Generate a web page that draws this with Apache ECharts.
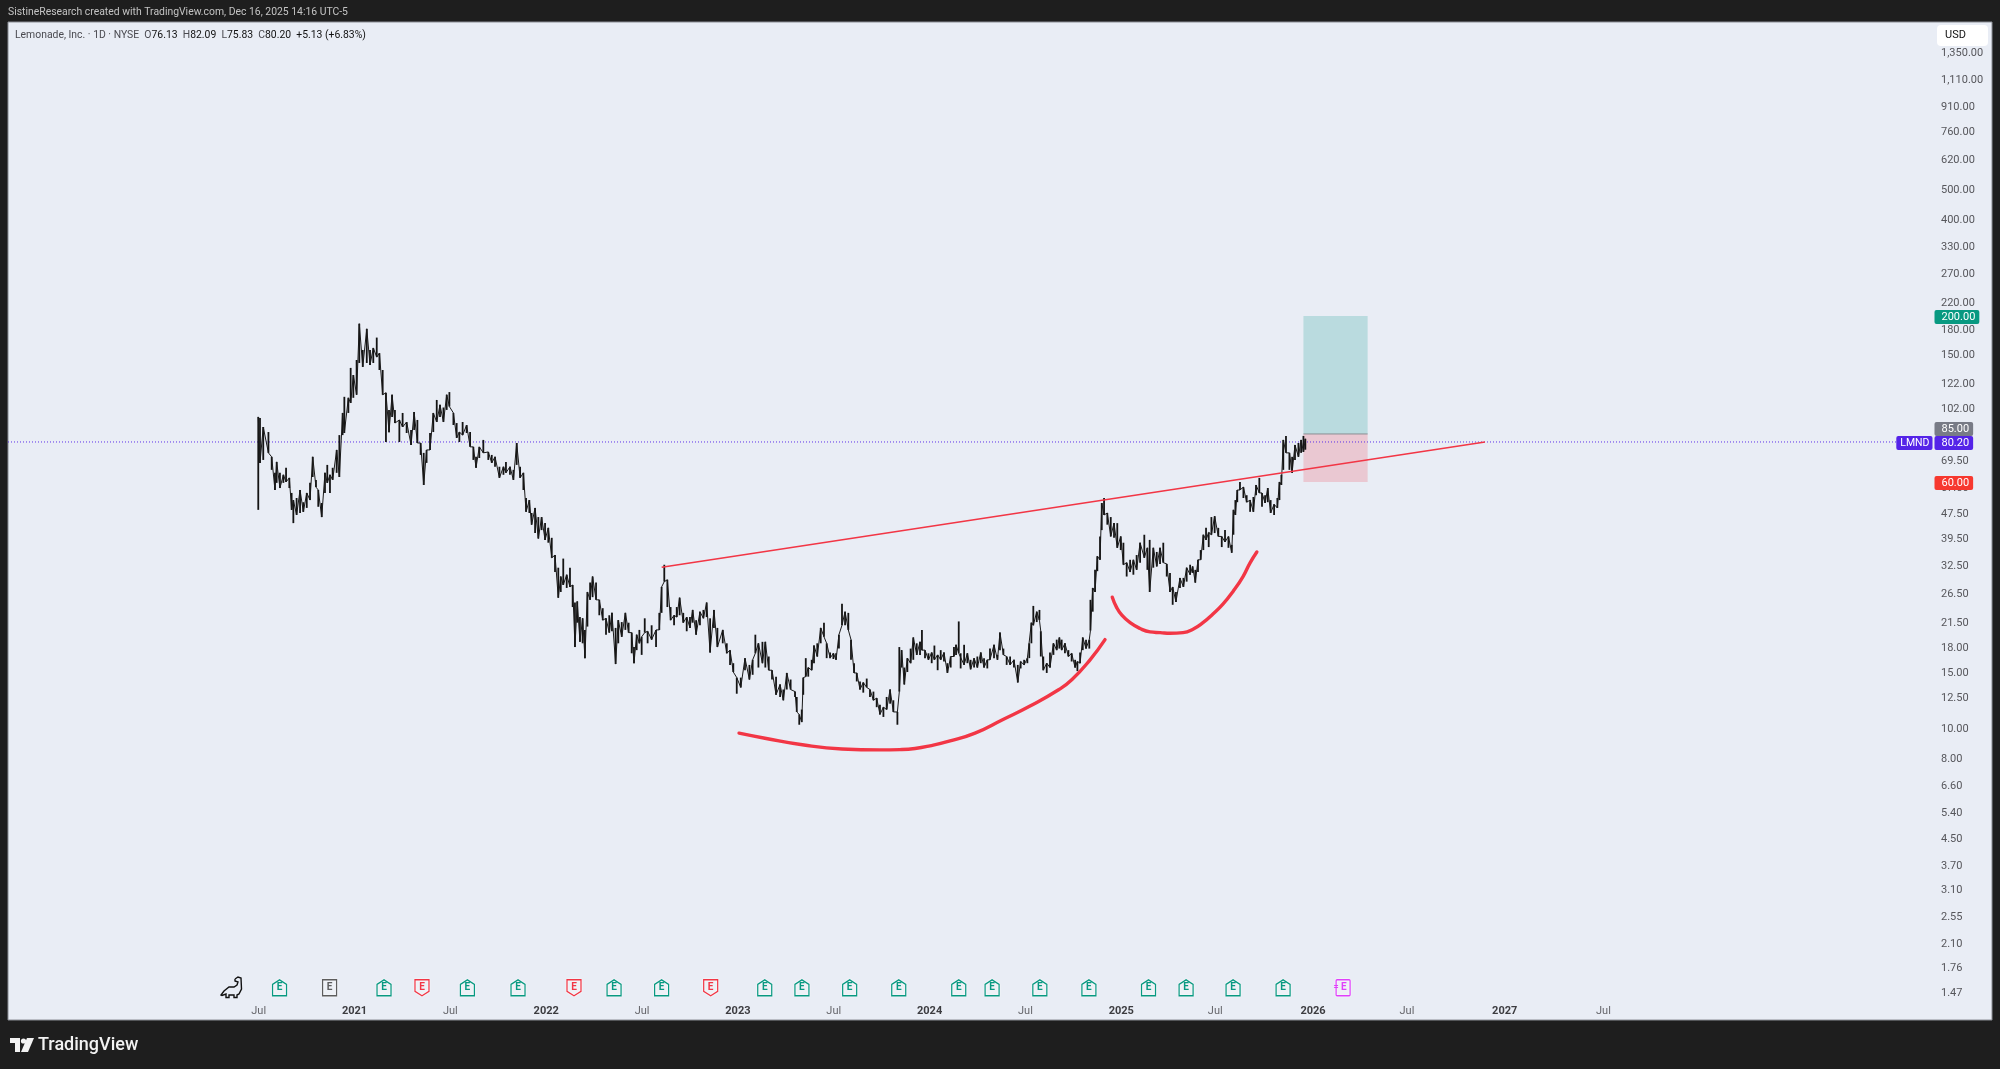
<!DOCTYPE html>
<html><head><meta charset="utf-8">
<style>html,body{margin:0;padding:0;background:#1e1e1e}#c{width:2000px;height:1069px}</style>
<script src="https://cdn.jsdelivr.net/npm/echarts@6/dist/echarts.min.js"></script>
</head><body><div id="c"></div>
<script>
// Chart values. Dates are decimal years, prices are USD.
const datesA=[2020.498,2020.507,2020.524,2020.551,2020.568,2020.585,2020.594,2020.611,2020.629,2020.643,2020.660,2020.672,2020.681,2020.698,2020.716,2020.733,2020.751,2020.768,2020.782,2020.799,2020.811,2020.829,2020.846,2020.858,2020.872,2020.886,2020.907,2020.921,2020.938,2020.947,2020.968,2020.980,2020.994,2021.011,2021.025,2021.043,2021.064,2021.081,2021.098,2021.116,2021.130,2021.147,2021.164,2021.180,2021.196,2021.211,2021.234,2021.251,2021.272,2021.295,2021.311,2021.328,2021.345,2021.361,2021.376,2021.394,2021.411,2021.429,2021.446,2021.464,2021.481,2021.495,2021.516,2021.533,2021.547,2021.564,2021.585,2021.603,2021.620,2021.634,2021.651,2021.672,2021.698,2021.716,2021.733,2021.756,2021.777,2021.790,2021.811,2021.829,2021.846,2021.864,2021.881,2021.895,2021.912,2021.924,2021.942,2021.959];
const highsA=[96.2,95.5,89.4,86.2,72.0,64.1,69.4,64.1,63.2,66.5,61.8,55.4,52.6,53.4,56.6,51.8,55.4,59.6,72.0,60.9,56.6,51.5,64.1,67.9,63.2,66.5,75.7,84.3,99.0,111.3,110.5,137.3,130.4,145.4,189.2,156.4,182.3,156.4,158.7,171.1,152.8,135.2,114.6,101.2,113.0,101.2,94.1,99.0,92.7,87.5,99.7,94.1,79.6,74.1,75.7,85.6,99.0,108.8,105.0,103.0,113.0,115.2,99.0,92.0,86.2,92.7,90.7,86.2,77.4,72.0,77.4,81.4,74.6,73.0,72.0,67.0,67.0,69.4,67.0,65.5,79.6,67.0,64.1,53.4,52.6,47.9,49.7,46.5];
const lowsA=[49.0,68.9,70.4,74.1,65.5,56.6,59.6,57.4,59.6,60.0,57.4,49.0,44.5,47.2,47.9,48.3,49.7,52.6,62.2,57.8,50.1,46.5,55.4,59.6,55.4,60.9,64.1,62.2,84.3,85.6,99.0,106.4,110.5,113.0,142.3,138.3,142.3,140.2,142.3,148.5,135.2,113.0,80.2,86.1,96.2,92.0,80.2,89.4,85.6,78.5,87.5,79.6,73.0,58.7,68.9,75.7,86.2,92.7,96.2,92.7,101.2,103.7,90.7,82.6,80.2,84.3,85.6,77.4,70.4,66.5,71.4,74.1,70.4,68.9,67.0,61.8,63.2,64.1,63.2,60.9,67.9,61.8,56.6,48.3,47.9,44.0,41.4,39.8];
const datesB=[2021.976,2021.994,2022.011,2022.029,2022.046,2022.063,2022.076,2022.089,2022.107,2022.124,2022.138,2022.150,2022.162,2022.176,2022.190,2022.202,2022.215,2022.229,2022.242,2022.260,2022.277,2022.295,2022.312,2022.329,2022.343,2022.362,2022.376,2022.394,2022.413,2022.430,2022.446,2022.458,2022.472,2022.486,2022.498,2022.514,2022.529,2022.550,2022.573,2022.590,2022.602,2022.616,2022.632,2022.649,2022.667,2022.681,2022.696,2022.715,2022.733,2022.750,2022.764,2022.782,2022.802,2022.820,2022.837,2022.855,2022.875,2022.893,2022.921,2022.942,2022.959,2022.976,2022.994,2023.015,2023.037,2023.060,2023.077,2023.091,2023.107,2023.128,2023.143,2023.161,2023.178,2023.199,2023.220,2023.237,2023.255,2023.275,2023.298];
const highsB=[46.5,44.5,43.0,40.0,35.3,32.2,30.2,34.4,30.6,32.2,28.4,25.0,25.2,22.5,22.3,20.5,27.0,28.9,30.2,28.9,25.5,24.0,22.3,22.8,23.2,20.8,22.0,21.7,23.2,21.6,20.1,18.1,19.8,20.5,19.5,22.3,20.3,21.2,20.5,23.2,28.0,32.9,29.5,24.2,22.8,24.2,25.9,23.2,22.5,22.5,23.7,22.0,23.4,23.7,25.0,22.3,23.7,20.8,20.5,18.6,17.7,16.1,14.5,14.5,16.7,15.9,16.5,19.8,18.6,18.8,18.8,16.9,15.3,14.6,13.8,13.3,15.0,14.3,13.1];
const lowsB=[42.3,39.4,38.6,34.6,31.2,25.9,27.0,28.4,27.8,28.0,24.2,18.1,21.6,18.8,18.6,16.7,21.0,25.5,26.0,25.5,22.8,22.0,19.8,20.1,20.3,16.0,18.6,19.5,20.5,20.1,17.3,16.1,17.7,18.6,17.1,20.1,18.6,19.1,18.1,20.5,23.2,29.1,24.2,22.0,21.2,22.5,22.8,21.6,20.3,20.8,21.6,19.8,21.2,22.3,22.5,17.4,20.8,18.1,18.6,17.3,15.9,15.1,12.9,13.5,15.3,14.3,14.8,17.3,15.6,16.1,15.6,15.3,14.3,12.8,12.6,12.3,13.3,13.3,12.6];
const datesC=[2023.307,2023.320,2023.333,2023.341,2023.354,2023.367,2023.385,2023.397,2023.414,2023.432,2023.449,2023.463,2023.481,2023.498,2023.512,2023.527,2023.543,2023.559,2023.576,2023.590,2023.606,2023.620,2023.637,2023.654,2023.672,2023.689,2023.707,2023.724,2023.741,2023.759,2023.776,2023.794,2023.811,2023.832,2023.842,2023.854,2023.868,2023.884,2023.901,2023.915,2023.933,2023.950,2023.960,2023.976,2023.994,2024.011,2024.025,2024.042,2024.058,2024.075,2024.093,2024.110,2024.127,2024.138,2024.152,2024.162,2024.180,2024.197,2024.214,2024.232,2024.249,2024.267,2024.284,2024.301,2024.315,2024.336,2024.354,2024.367,2024.385,2024.402,2024.420,2024.440,2024.460,2024.475,2024.493,2024.510,2024.520,2024.531,2024.541,2024.559,2024.573,2024.580,2024.593,2024.611,2024.628,2024.646,2024.663,2024.677];
const highsC=[12.6,11.1,11.5,14.5,16.7,15.6,16.5,18.3,18.6,20.8,21.6,18.6,17.4,17.3,17.3,19.8,24.8,23.4,23.2,19.1,16.1,15.0,14.1,14.0,14.4,13.3,13.1,12.5,11.9,11.7,12.6,13.3,12.3,11.3,18.1,17.7,15.6,16.7,17.9,19.4,18.6,18.8,20.5,17.7,17.3,17.4,18.3,17.1,17.7,17.4,16.1,16.9,18.1,18.4,21.8,17.3,18.4,17.3,16.5,16.7,16.9,17.4,16.7,16.5,17.9,18.4,17.1,20.1,17.9,16.9,16.9,16.5,15.9,16.3,16.5,16.7,18.6,21.6,24.4,23.4,23.7,20.3,16.9,16.1,17.4,18.6,19.1,19.4];
const lowsC=[11.3,10.3,10.5,12.8,14.6,14.6,15.3,16.1,16.9,18.6,19.5,16.7,16.7,16.6,16.5,17.9,21.2,21.2,20.5,16.5,15.0,14.1,13.3,13.0,13.5,12.6,12.3,11.7,11.1,10.9,11.5,12.0,11.3,10.3,13.1,15.6,13.8,15.1,16.1,16.5,17.1,17.1,17.7,16.7,16.5,16.1,16.5,15.3,16.5,16.3,15.0,15.6,16.9,17.1,17.3,15.5,15.9,16.1,15.4,15.6,15.6,16.1,15.6,15.5,16.5,16.7,16.5,17.7,17.1,15.9,15.9,15.6,14.0,15.5,15.9,16.1,16.7,18.6,21.2,21.7,22.0,16.9,15.3,15.0,15.6,17.1,17.7,17.9];
const datesD=[2024.689,2024.706,2024.724,2024.741,2024.759,2024.771,2024.785,2024.799,2024.816,2024.833,2024.839,2024.851,2024.863,2024.875,2024.889,2024.898,2024.910,2024.927,2024.945,2024.962,2024.979,2024.997,2025.011,2025.028,2025.046,2025.063,2025.080,2025.098,2025.120,2025.136,2025.148,2025.167,2025.185,2025.202,2025.219,2025.237,2025.254,2025.268,2025.285,2025.306,2025.324,2025.341,2025.359,2025.372,2025.386,2025.400,2025.414,2025.428,2025.442,2025.456,2025.470,2025.487,2025.506,2025.524,2025.541,2025.559,2025.576];
const highsD=[19.1,18.6,17.7,17.3,16.5,16.3,17.4,19.4,19.1,19.1,25.5,27.8,31.7,35.0,40.4,51.5,53.4,47.9,46.5,44.5,44.5,40.4,38.6,33.4,34.1,34.1,35.3,38.6,40.9,37.2,39.4,37.2,36.1,37.2,38.6,33.1,31.0,28.0,27.0,29.9,29.9,32.2,32.9,32.5,31.7,34.1,36.6,40.9,43.0,41.6,46.5,46.8,43.0,40.4,42.3,40.4,38.0];
const lowsD=[17.7,17.3,16.9,16.3,15.6,15.2,16.1,17.7,17.9,17.9,20.4,23.4,27.0,31.4,34.1,42.3,47.2,44.0,40.4,40.0,37.2,36.6,32.9,30.2,31.2,30.6,31.7,33.4,34.6,31.7,27.0,32.2,32.5,33.1,33.4,30.2,27.0,24.6,25.1,27.8,28.0,29.1,30.6,31.0,28.9,31.2,34.1,36.6,39.4,37.4,40.9,41.4,40.4,37.4,38.8,37.2,35.9];
const datesE=[2025.585,2025.595,2025.605,2025.619,2025.637,2025.654,2025.672,2025.689,2025.703,2025.720,2025.734,2025.750,2025.764,2025.779,2025.797,2025.814,2025.825,2025.835,2025.845,2025.859,2025.877,2025.891,2025.906,2025.924,2025.938,2025.950,2025.960];
const highsE=[49.0,52.6,56.6,60.0,57.8,54.5,52.6,53.8,58.7,61.8,55.4,54.5,57.4,52.6,51.0,53.4,60.0,63.2,81.4,83.8,74.1,72.0,78.5,79.6,81.4,83.8,82.09];
const lowsE=[40.9,47.2,51.8,56.6,53.4,51.8,48.3,48.3,54.5,55.4,50.1,51.5,51.8,47.9,47.2,49.7,52.6,58.7,65.5,74.1,65.5,64.1,70.4,72.0,74.1,74.6,75.83];

const lastPrice=80.20, targetPrice=200, entryPrice=85, stopPrice=60;
const tradeStart=2025.950, tradeEnd=2026.285;

const trendYears=[2022.6025,2026.897], trendPrices=[32.3,80.2];
const bigCupYears=[2023.006,2023.141,2023.345,2023.543,2023.741,2023.845,2023.924,2024.002,2024.107,2024.237,2024.383,2024.524,2024.675,2024.743,2024.837,2024.915];
const bigCupPrices=[9.69,9.34,8.89,8.64,8.58,8.6,8.67,8.84,9.16,9.69,10.7,11.8,13.3,14.3,16.5,19.1];
const smallCupYears=[2024.953,2024.976,2025.002,2025.046,2025.098,2025.150,2025.203,2025.254,2025.322,2025.374,2025.426,2025.478,2025.530,2025.583,2025.635,2025.671,2025.707];
const smallCupPrices=[26.0,24.1,22.85,21.6,20.7,20.2,20.1,20.0,20.1,20.6,21.6,23.0,24.7,27.1,30.2,33.3,36.1];

const earningsYears=[2020.609,2020.870,2021.154,2021.352,2021.589,2021.853,2022.145,2022.354,2022.602,2022.858,2023.140,2023.334,2023.583,2023.839,2024.152,2024.326,2024.575,2024.831,2025.142,2025.338,2025.583,2025.844,2026.157];
const earningsKinds=['up','flat','up','down','up','up','down','up','up','down','up','up','up','up','up','up','up','up','up','up','up','up','next'];

const priceTicks=[1350,1110,910,760,620,500,400,330,270,220,180,150,122,102,69.5,57.5,47.5,39.5,32.5,26.5,21.5,18,15,12.5,10,8,6.6,5.4,4.5,3.7,3.1,2.55,2.1,1.76,1.47];
const timeTicks=[2020.5,2021,2021.5,2022,2022.5,2023,2023.5,2024,2024.5,2025,2025.49,2026,2026.49,2027,2027.515];

const FONT='Roboto, "Liberation Sans", sans-serif';
const xMin=2019.1925,xMax=2029.2394,yMin=1.208,yMax=1690.6,markerRowPrice=1.526;

const barRows=[];
[[datesA,highsA,lowsA],[datesB,highsB,lowsB],[datesC,highsC,lowsC],[datesD,highsD,lowsD],[datesE,highsE,lowsE]].forEach(([t,h,l])=>{
  t.forEach((d,i)=>barRows.push([d,l[i],h[i]]));
});
// Zig-zag between the bars' ends, so the price trace reads as one continuous band.
const traceRows=barRows.map((r,i)=>[r[0],i%2?r[1]:r[2]]);

const SYMBOLS={
  up:'path://M0 4.5 L7 0 L14 4.5 V16 H0 Z',
  down:'path://M0 0 H14 V11.5 L7 16 L0 11.5 Z',
  flat:'path://M0 0 H14 V16 H0 Z',
  next:'path://M1 0 H13 Q14 0 14 1 V15 Q14 16 13 16 H1 Q0 16 0 15 V1 Q0 0 1 0 Z'
};
const KIND_COLOR={up:'#089981',down:'#f23645',flat:'#5d5d5d',next:'#e040fb'};

const tagRows=[
  {value:[xMax,targetPrice],text:'200.00',color:'#089981',shift:1},
  {value:[xMax,stopPrice],text:'60.00',color:'#f7382f',shift:1},
  {value:[xMax,entryPrice],text:'85.00',color:'#787b86',shift:-5},
  {value:[xMax,lastPrice],text:'80.20',color:'#5423e8',shift:1}
];
const tagLabel=(d)=>({show:true,position:'right',distance:0,offset:[0,d.shift],formatter:d.text,color:'#fff',fontFamily:FONT,fontSize:11,
  lineHeight:14,backgroundColor:d.color,padding:[0,4,0,7],borderRadius:2,opacity:1});

const dinoPoints=[[14,2],[17,0],[20,1],[20.5,12],[18,17],[16,18],[16,20.5],[13,20.5],[13,18],[8,18],[8,20.5],[5,20.5],[5,17],[1,18.5],[0,18],[3,14],[8,10],[13,10],[16,8],[17,5],[14,4],[14,2]];

const option={
  animation:false,
  backgroundColor:'#1e1e1e',
  grid:{left:8,top:22,right:66,bottom:49},
  xAxis:{type:'value',min:xMin,max:xMax,splitLine:{show:false},axisLine:{show:false},axisTick:{show:false},
    axisLabel:{inside:true,margin:3,customValues:timeTicks,showMinLabel:true,showMaxLabel:true,hideOverlap:false,
      formatter:v=>Number.isInteger(v)?'{y|'+v+'}':'{m|Jul}',
      rich:{y:{fontFamily:FONT,fontSize:11,fontWeight:700,color:'#3c3c40'},m:{fontFamily:FONT,fontSize:11,color:'#66666b'}}}},
  yAxis:{type:'log',logBase:10,min:yMin,max:yMax,position:'right',splitLine:{show:false},minorSplitLine:{show:false},
    axisLine:{show:false},axisTick:{show:false},
    axisLabel:{margin:7,customValues:priceTicks,hideOverlap:false,color:'#56565b',fontFamily:FONT,fontSize:11,padding:[4,0,0,0],
      formatter:v=>Number(v.toPrecision(6)).toLocaleString('en-US',{minimumFractionDigits:2,maximumFractionDigits:2})}},
  graphic:[
    {type:'rect',z:-10,silent:true,shape:{x:8,y:22,width:1984,height:998},style:{fill:'#e9edf5',stroke:'#8a8d94',lineWidth:1}},
    {type:'text',x:8,y:7.5,z:10,style:{text:'SistineResearch created with TradingView.com, Dec 16, 2025 14:16 UTC-5',fill:'#c4c4c4',font:'10.4px '+FONT}},
    {type:'text',x:15,y:30,z:10,style:{
      text:'{a|Lemonade, Inc. · 1D · NYSE}  {a|O}{b|76.13}  {a|H}{b|82.09}  {a|L}{b|75.83}  {a|C}{b|80.20}  {b|+5.13 (+6.83%)}',
      font:'10.4px '+FONT,rich:{a:{fill:'#4a4a50',font:'10.4px '+FONT},b:{fill:'#111',font:'10.4px '+FONT}}}},
    {type:'rect',z:20,shape:{x:1937,y:25,width:51,height:21,r:4},style:{fill:'#fff'}},
    {type:'text',x:1945,y:30,z:21,style:{text:'USD',fill:'#111',font:'11px '+FONT}},
    {type:'polyline',z:10,x:221,y:977,shape:{points:dinoPoints},style:{fill:'none',stroke:'#111',lineWidth:1.4}},
    {type:'polygon',z:10,shape:{points:[[10,1038],[20,1038],[20,1052],[15,1052],[15,1043],[10,1043]]},style:{fill:'#f2f2f2'}},
    {type:'polygon',z:10,shape:{points:[[27,1038],[34,1038],[28,1052],[21,1052]]},style:{fill:'#f2f2f2'}},
    {type:'circle',z:10,shape:{cx:23.5,cy:1041,r:2.6},style:{fill:'#f2f2f2'}},
    {type:'text',x:38,y:1036,z:10,style:{text:'TradingView',fill:'#f2f2f2',font:'500 18px '+FONT}}
  ],
  series:[
    {name:'Trade box',type:'custom',coordinateSystem:'cartesian2d',z:1,clip:false,silent:true,
      data:[[tradeStart,tradeEnd,targetPrice,entryPrice,stopPrice]],
      renderItem:(p,api)=>{
        const a=api.coord([api.value(0),api.value(2)]),b=api.coord([api.value(1),api.value(3)]),c=api.coord([api.value(1),api.value(4)]);
        return {type:'group',children:[
          {type:'rect',shape:{x:a[0],y:a[1],width:b[0]-a[0],height:b[1]-a[1]},style:{fill:'rgba(0,150,136,0.2)'}},
          {type:'rect',shape:{x:a[0],y:b[1],width:b[0]-a[0],height:c[1]-b[1]},style:{fill:'rgba(242,54,69,0.2)'}},
          {type:'line',shape:{x1:a[0],y1:b[1],x2:b[0],y2:b[1]},style:{stroke:'#8a8d94',lineWidth:1}}
        ]};
      }},
    {name:'Last price',type:'line',z:2,silent:true,symbol:'none',data:[[xMin,lastPrice],[xMax,lastPrice]],
      lineStyle:{color:'#5b2fe8',width:1,type:[1,2]}},
    {name:'LMND trace',type:'line',z:3,silent:true,symbol:'none',data:traceRows,lineStyle:{color:'#1a1a1a',width:1}},
    {name:'LMND',type:'custom',coordinateSystem:'cartesian2d',z:3,silent:true,data:barRows,
      renderItem:(p,api)=>{
        const h=api.coord([api.value(0),api.value(2)]),l=api.coord([api.value(0),api.value(1)]);
        return {type:'line',shape:{x1:h[0],y1:h[1],x2:l[0],y2:l[1]},style:{stroke:'#141414',lineWidth:1.8}};
      }},
    {name:'Trend line',type:'line',z:4,silent:true,symbol:'none',data:trendYears.map((x,i)=>[x,trendPrices[i]]),
      lineStyle:{color:'#f23645',width:1.6}},
    {name:'Big cup',type:'line',z:4,silent:true,symbol:'none',smooth:0.5,data:bigCupYears.map((x,i)=>[x,bigCupPrices[i]]),
      lineStyle:{color:'#f23645',width:3.4,cap:'round'}},
    {name:'Small cup',type:'line',z:4,silent:true,symbol:'none',smooth:0.5,data:smallCupYears.map((x,i)=>[x,smallCupPrices[i]]),
      lineStyle:{color:'#f23645',width:3.4,cap:'round'}},
    {name:'Earnings',type:'scatter',z:6,silent:true,itemStyle:{opacity:1},
      data:earningsYears.map((x,i)=>{
        const k=earningsKinds[i],c=KIND_COLOR[k];
        return {value:[x,markerRowPrice],symbol:SYMBOLS[k],symbolSize:[14,16],
          itemStyle:{color:'#eef1f6',borderColor:c,borderWidth:1.3,shadowColor:'#fff',shadowBlur:2,opacity:1},
          label:{show:true,position:'inside',formatter:k==='next'?'{d|=} E':'E',rich:{d:{fontSize:9,color:c,fontWeight:700,fontFamily:FONT}},color:c,fontFamily:FONT,fontSize:10,fontWeight:700,opacity:1,offset:[k==='next'?-3:0,0]}};
      })},
    {name:'Price tags',type:'scatter',z:8,silent:true,symbolSize:1,itemStyle:{color:'rgba(0,0,0,0)',opacity:1},
      data:tagRows.map(d=>({value:d.value,label:tagLabel(d)}))},
    {name:'Ticker tag',type:'scatter',z:8,silent:true,symbolSize:1,itemStyle:{color:'rgba(0,0,0,0)',opacity:1},
      data:[{value:[xMax,lastPrice],label:{show:true,position:'left',distance:1,offset:[0,1],formatter:'LMND',color:'#fff',fontFamily:FONT,fontSize:10.5,
        lineHeight:14,backgroundColor:'#5423e8',padding:[0,3,0,4],borderRadius:2,opacity:1}}]}
  ]
};
const chart=echarts.init(document.getElementById('c'),null,{renderer:'canvas'});
chart.setOption(option);
</script></body></html>
